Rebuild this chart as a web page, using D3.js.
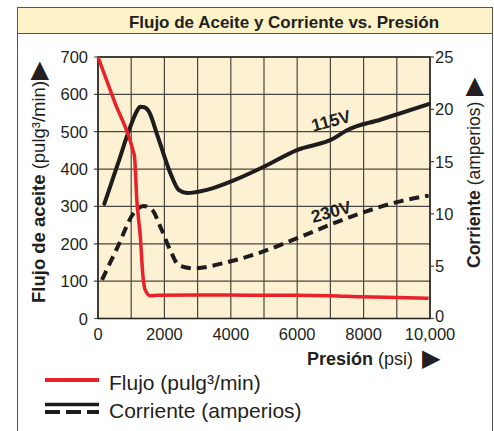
<!DOCTYPE html>
<html><head><meta charset="utf-8">
<script src="https://cdn.jsdelivr.net/npm/d3@7"></script>
<style>body{margin:0;background:#fff}svg{display:block}text{font-family:"Liberation Sans",Arial,Helvetica,sans-serif;fill:#231f20}</style>
</head><body>
<script>
// ---- data ----
const title = "Flujo de Aceite y Corriente vs. Presión";
const xTicks = [0,2000,4000,6000,8000,10000];
const xTickLabels = ["0","2000","4000","6000","8000","10,000"];
const yLeftTicks = [0,100,200,300,400,500,600,700];
const yRightTicks = [0,5,10,15,20,25];
// Flujo (pulg3/min) vs presión (psi)
const flowPsi = [0,500,1050,1100,1170,1275,1355,1425,1575,1780,3000,4000,5000,6000,7000,7900,9000,9960];
const flowVal = [700,580,451,433,317,219,112,76,61,62,63,63,62,62,61,58,56,54];
// Corriente 115V (amperios)
const c115Psi = [190,600,970,1150,1275,1400,1530,1800,2180,2430,2680,3280,4085,4990,5990,7095,7500,8500,9960];
const c115Val = [10.95,14.8,18.3,19.7,20.25,20.2,19.8,17.4,13.9,12.3,12.0,12.3,13.2,14.5,16.1,17.2,18.0,19.0,20.5];
// Corriente 230V (amperios)
const c230Psi = [120,600,1070,1370,1625,1900,2180,2430,2885,3790,4790,6090,7590,9100,9960];
const c230Val = [3.7,6.9,10.05,10.75,10.4,8.6,6.5,5.1,4.8,5.3,6.2,7.8,9.7,11.2,11.75];
const seriesLabels = [{t:"115V", psi:7020, a:18.9},{t:"230V", psi:7020, a:10.2}];
const legendItems = ["Flujo (pulg³/min)","Corriente (amperios)"];

const W=494,H=431;
const svg=d3.select("body").append("svg").attr("width",W).attr("height",H);
const red="#e8212b", blk="#1e1c1c", grid="#4a4740";

// outer box and title band
svg.append("rect").attr("x",17.5).attr("y",7.5).attr("width",475).attr("height",440).attr("fill","#fff").attr("stroke","#555").attr("stroke-width",1);
svg.append("rect").attr("x",17.5).attr("y",7.5).attr("width",475).attr("height",26).attr("fill","#fdf2c8").attr("stroke","#555").attr("stroke-width",1);
svg.append("text").attr("x",284).attr("y",28).attr("text-anchor","middle").attr("font-size",17).attr("font-weight","bold").text(title);

const x=d3.scaleLinear().domain([0,10000]).range([98,430]);
const yL=d3.scaleLinear().domain([0,700]).range([318.5,57]);
const yR=d3.scaleLinear().domain([0,25]).range([318.5,57]);

// plot bg
svg.append("rect").attr("x",x(0)).attr("y",yL(700)).attr("width",x(10000)-x(0)).attr("height",yL(0)-yL(700)).attr("fill","#fdf1d4");

// grid
const g=svg.append("g");
d3.range(0,10001,1000).forEach(v=>g.append("line").attr("x1",x(v)).attr("x2",x(v)).attr("y1",yL(0)).attr("y2",yL(700)).attr("stroke",grid).attr("stroke-width",1.2));
yLeftTicks.forEach(v=>g.append("line").attr("x1",x(0)-4).attr("x2",x(10000)).attr("y1",yL(v)).attr("y2",yL(v)).attr("stroke",grid).attr("stroke-width",1.2));
// frame
svg.append("rect").attr("x",x(0)).attr("y",yL(700)).attr("width",x(10000)-x(0)).attr("height",yL(0)-yL(700)).attr("fill","none").attr("stroke","#2a2826").attr("stroke-width",1.6);
// right ticks
yRightTicks.forEach(v=>svg.append("line").attr("x1",x(10000)).attr("x2",x(10000)+4).attr("y1",yR(v)).attr("y2",yR(v)).attr("stroke",grid).attr("stroke-width",1.2));

// tick labels
const fs=16.5;
yLeftTicks.forEach(v=>svg.append("text").attr("x",88).attr("y",yL(v)+6).attr("text-anchor","end").attr("font-size",fs).text(v));
yRightTicks.forEach(v=>svg.append("text").attr("x",435).attr("y",yR(v)+(v===0?3:6)).attr("font-size",fs).text(v));
xTicks.forEach((v,i)=>svg.append("text").attr("x",x(v)).attr("y",340).attr("text-anchor","middle").attr("font-size",fs).text(xTickLabels[i]));

// axis titles
const xt=svg.append("text").attr("x",413).attr("y",365).attr("text-anchor","end").attr("font-size",18);
xt.append("tspan").attr("font-weight","bold").text("Presión");
xt.append("tspan").text(" (psi)");
svg.append("text").attr("x",422).attr("y",366).attr("font-size",24).text("▶");

const lt=svg.append("text").attr("transform","translate(45,303) rotate(-90)").attr("font-size",18.5);
lt.append("tspan").attr("font-weight","bold").text("Flujo de aceite ");
lt.append("tspan").text("(pulg³/min)");
lt.append("tspan").attr("dx",1).attr("font-size",24).attr("dy",1).text("▶");

const rt=svg.append("text").attr("transform","translate(480,268) rotate(-90)").attr("font-size",17.5);
rt.append("tspan").attr("font-weight","bold").text("Corriente ");
rt.append("tspan").text("(amperios)");
rt.append("tspan").attr("dx",6).attr("font-size",24).attr("dy",1).text("▶");

// lines
const lineF=d3.line().x((d,i)=>x(flowPsi[i])).y(d=>yL(d)).curve(d3.curveMonotoneX);
const lineC=(ps)=>d3.line().x((d,i)=>x(ps[i])).y(d=>yR(d)).curve(d3.curveMonotoneX);
svg.append("path").attr("d",lineC(c115Psi)(c115Val)).attr("fill","none").attr("stroke",blk).attr("stroke-width",4).attr("stroke-linecap","round");
svg.append("path").attr("d",lineC(c230Psi)(c230Val)).attr("fill","none").attr("stroke",blk).attr("stroke-width",4).attr("stroke-dasharray","10,6");
svg.append("path").attr("d",lineF(flowVal)).attr("fill","none").attr("stroke",red).attr("stroke-width",3.5);

seriesLabels.forEach(s=>svg.append("text").attr("transform",`translate(${x(s.psi)},${yR(s.a)}) rotate(-15)`).attr("text-anchor","middle").attr("dy",6).attr("font-size",17.5).attr("font-weight","bold").text(s.t));

// legend
svg.append("line").attr("x1",45).attr("x2",99).attr("y1",380).attr("y2",380).attr("stroke",red).attr("stroke-width",4);
svg.append("text").attr("x",109).attr("y",390).attr("font-size",21).text(legendItems[0]);
svg.append("line").attr("x1",45).attr("x2",99).attr("y1",404.5).attr("y2",404.5).attr("stroke",blk).attr("stroke-width",3.5);
svg.append("line").attr("x1",45).attr("x2",99).attr("y1",412).attr("y2",412).attr("stroke",blk).attr("stroke-width",4).attr("stroke-dasharray","15,6");
svg.append("text").attr("x",109).attr("y",418).attr("font-size",21).text(legendItems[1]);
</script>
</body></html>
